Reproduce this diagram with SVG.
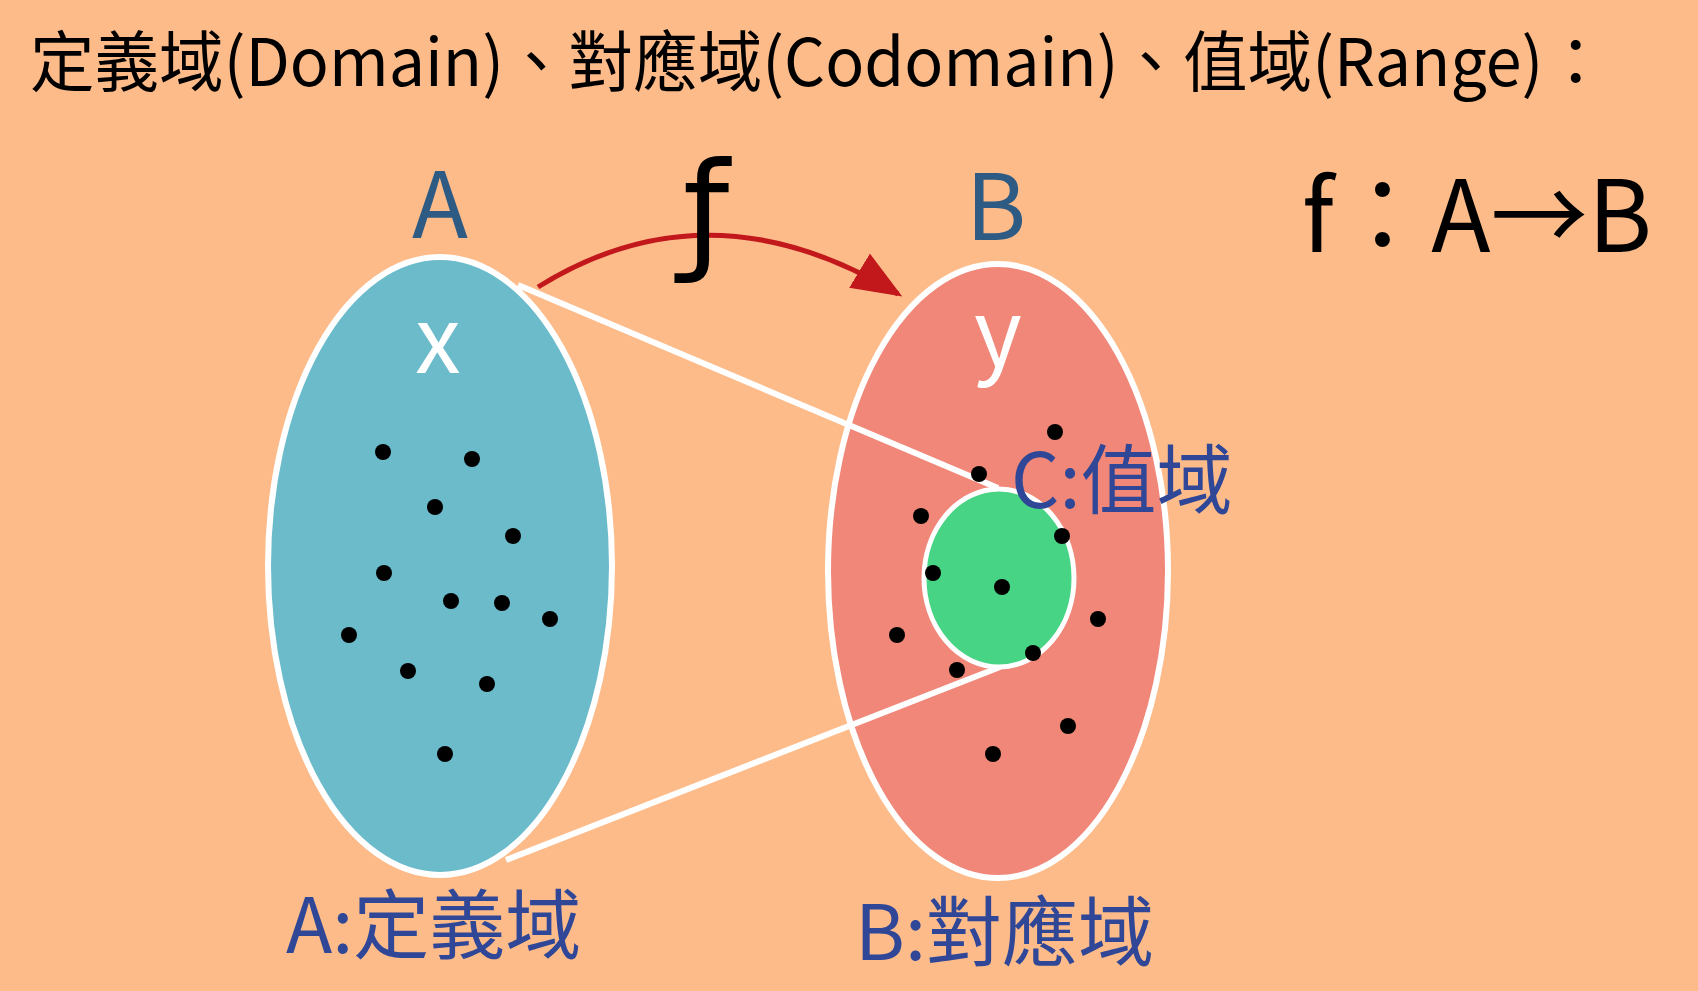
<svg xmlns="http://www.w3.org/2000/svg" width="1698" height="991" viewBox="0 0 1698 991">
<defs>
<style>
.cjk{font-family:"Noto Sans CJK TC","Noto Sans",sans-serif;}
.dot{fill:#000;}
.set{stroke:#fff;stroke-width:6;}
.lbl{fill:#2f4796;font-size:76px;}
.big{fill:#2d5b84;font-size:92px;}
.inner{fill:#fff;font-size:92px;}
</style>
<marker id="ah" markerWidth="10" markerHeight="8" refX="9" refY="4" orient="auto" markerUnits="strokeWidth">
<path d="M0,0 L10,4 L0,8 Z" fill="#c2181b"/>
</marker>
</defs>
<rect width="1698" height="991" fill="#fdbb89"/>
<text class="cjk" x="30" y="86" font-size="66" fill="#000" textLength="1578" lengthAdjust="spacingAndGlyphs">定義域(Domain)、對應域(Codomain)、值域(Range)：</text>
<text class="cjk" x="1302" y="252" font-size="100" fill="#000" textLength="350" lengthAdjust="spacingAndGlyphs">f：A→B</text>
<g id="setA">
<ellipse class="set" cx="440" cy="566" rx="172" ry="309" fill="#6bbbcb"/>
<text class="cjk big" x="440" y="238" text-anchor="middle">A</text>
<text class="cjk inner" x="438" y="373" text-anchor="middle">x</text>
<g class="dot">
<circle cx="383" cy="452" r="8"/><circle cx="472" cy="459" r="8"/><circle cx="435" cy="507" r="8"/>
<circle cx="513" cy="536" r="8"/><circle cx="384" cy="573" r="8"/><circle cx="451" cy="601" r="8"/>
<circle cx="502" cy="603" r="8"/><circle cx="550" cy="619" r="8"/><circle cx="349" cy="635" r="8"/>
<circle cx="408" cy="671" r="8"/><circle cx="487" cy="684" r="8"/><circle cx="445" cy="754" r="8"/>
</g>
<text class="cjk lbl" x="286" y="953">A:定義域</text>
</g>
<g id="setB">
<ellipse class="set" cx="998" cy="571" rx="170" ry="307" fill="#f08778"/>
<text class="cjk big" x="996" y="240" text-anchor="middle">B</text>
<text class="cjk inner" x="998" y="366" text-anchor="middle">y</text>
<text class="cjk lbl" x="855" y="960">B:對應域</text>
</g>
<g id="connectors" fill="none">
<path d="M518,285 L998,488" stroke="#fff" stroke-width="6"/>
<path d="M506,860 L1000,667" stroke="#fff" stroke-width="6"/>
<path d="M538,287 Q710,180 898,294" stroke="#c2181b" stroke-width="5" marker-end="url(#ah)"/>
</g>
<g id="setC">
<ellipse cx="999" cy="578" rx="75" ry="89" fill="#47d484" stroke="#fff" stroke-width="5"/>
<text class="cjk lbl" x="1011" y="508">C:值域</text>
</g>
<g id="dotsB" class="dot">
<circle cx="1055" cy="432" r="8"/><circle cx="979" cy="474" r="8"/><circle cx="921" cy="516" r="8"/>
<circle cx="1062" cy="536" r="8"/><circle cx="933" cy="573" r="8"/><circle cx="1002" cy="587" r="8"/>
<circle cx="1098" cy="619" r="8"/><circle cx="897" cy="635" r="8"/><circle cx="1033" cy="653" r="8"/>
<circle cx="957" cy="670" r="8"/><circle cx="1068" cy="726" r="8"/><circle cx="993" cy="754" r="8"/>
</g>
<text id="fsym" x="706" y="256" font-family="DejaVu Sans" font-size="132" fill="#000" text-anchor="middle">ƒ</text>
</svg>
